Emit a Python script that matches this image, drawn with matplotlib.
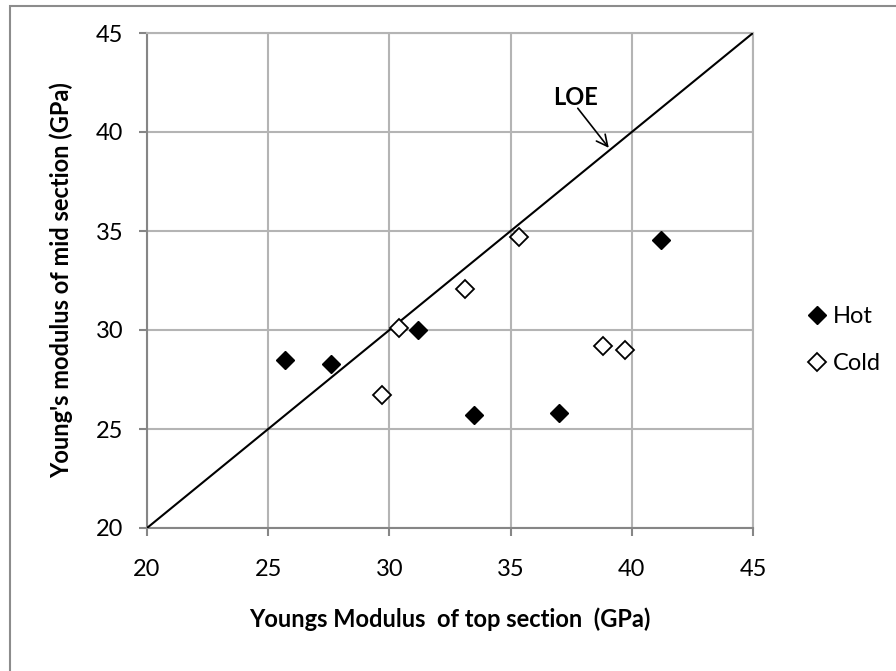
import matplotlib.pyplot as plt
from matplotlib.patches import Rectangle

# Hot and cold specimens: Young's modulus, top section (x) vs mid section (y), GPa
hot_top = [25.7, 27.6, 31.2, 33.5, 37.0, 41.2]
hot_mid = [28.5, 28.3, 30.0, 25.7, 25.8, 34.55]
cold_top = [29.7, 30.4, 33.1, 35.35, 38.8, 39.7]
cold_mid = [26.7, 30.1, 32.05, 34.7, 29.2, 29.0]

# line of equality
loe = [20, 45]
ticks = [20, 25, 30, 35, 40, 45]

plt.rcParams["font.family"] = ["Lato", "DejaVu Sans"]

fig = plt.figure(figsize=(8.96, 6.71), dpi=100)
ax = fig.add_axes([147 / 896, 1 - 528 / 671, 606 / 896, 495 / 671])

# outer chart border (only top and left edges are visible)
fig.patches.append(Rectangle((10 / 896, -0.1), 1.2, 1 - 6 / 671 + 0.1,
                             transform=fig.transFigure, fill=False,
                             edgecolor="#8c8c8c", linewidth=1.5))

ax.plot(loe, loe, color="black", linewidth=1.5, zorder=3)
ax.plot(hot_top, hot_mid, linestyle="none", marker="D", markersize=9.5,
        markerfacecolor="black", markeredgecolor="black", markeredgewidth=1.0,
        label="Hot", zorder=4)
ax.plot(cold_top, cold_mid, linestyle="none", marker="D", markersize=9,
        markerfacecolor="white", markeredgecolor="black", markeredgewidth=1.3,
        label="Cold", zorder=4)

ax.set_xlim(20, 45)
ax.set_ylim(20, 45)
ax.set_xticks(ticks)
ax.set_yticks(ticks)
ax.grid(True, color="#b4b4b4", linewidth=1.5)
ax.set_axisbelow(True)
for side in ["top", "right"]:
    ax.spines[side].set_color("#b4b4b4")
    ax.spines[side].set_linewidth(1.5)
for side in ["left", "bottom"]:
    ax.spines[side].set_color("#868686")
    ax.spines[side].set_linewidth(1.5)
ax.tick_params(axis="both", direction="out", length=6, width=1.5,
               color="#868686", labelsize=17)
ax.tick_params(axis="x", pad=16)
ax.tick_params(axis="y", pad=11)

ax.set_xlabel("Youngs Modulus  of top section  (GPa)", fontsize=17,
              fontweight="bold", labelpad=20)
ax.set_ylabel("Young's modulus of mid section (GPa)", fontsize=17,
              fontweight="bold", labelpad=16)

# LOE label with arrow pointing at the line
ax.text(37.67, 41.76, "LOE", fontsize=17, fontweight="bold",
        ha="center", va="center")
ax.annotate("", xy=(39.05, 39.2), xytext=(37.77, 41.2),
            arrowprops=dict(arrowstyle="->", color="black", linewidth=1.2,
                            shrinkA=0, shrinkB=0, mutation_scale=20))

ax.legend(loc="center left", bbox_to_anchor=(800 / 896, 1 - 340 / 671),
          bbox_transform=fig.transFigure, frameon=False, fontsize=17,
          handlelength=0.6, handletextpad=0.4, labelspacing=1.1,
          borderaxespad=0)

fig.savefig("out.png", dpi=100)
